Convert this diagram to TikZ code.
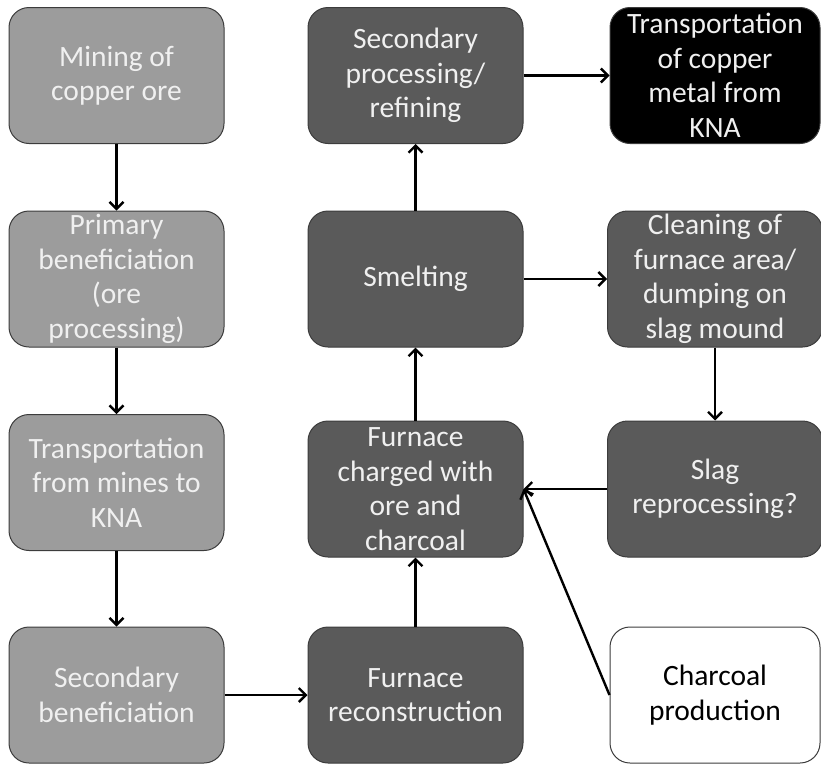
\documentclass[tikz,border=0pt]{standalone}
\usepackage{fontspec}
\setmainfont{Carlito}
\usetikzlibrary{arrows.meta}
\definecolor{lightbox}{HTML}{9C9C9C}
\definecolor{darkbox}{HTML}{5A5A5A}
\definecolor{edge}{HTML}{3C3C3C}

\begin{document}
\begin{tikzpicture}[
  x=1pt, y=-1pt,
  >={Straight Barb[length=7pt, width=14pt]},
  box/.style={draw=edge, line width=1pt, rounded corners=20pt,
              minimum width=215pt, minimum height=136pt, inner sep=0pt,
              align=center, text=white!94!black,
              font=\fontsize{29.5}{34.5}\selectfont},
  mine/.style={box, fill=lightbox},
  kiln/.style={box, fill=darkbox},
  side/.style={box, minimum width=210pt},
  arr/.style={->, line width=2.4pt}
]
\useasboundingbox (0,0) rectangle (821,766);

%% Ore chain
\node[mine] (mining)    at (116.5, 75.5) {Mining of\\copper ore};
\node[mine] (primary)   at (116.5,279)   {Primary\\beneficiation\\(ore\\processing)};
\node[mine] (transport) at (116.5,482.5) {Transportation\\from mines to\\KNA};
\node[mine] (secben)    at (116.5,695)   {Secondary\\beneficiation};

%% Furnace chain
\node[kiln] (furnrec)  at (415.5,695)  {Furnace\\reconstruction};
\node[kiln] (charged)  at (415.5,489)  {Furnace\\charged with\\ore and\\charcoal};
\node[kiln] (smelting) at (415.5,279)  {Smelting};
\node[kiln] (refining) at (415.5,75.5) {Secondary\\processing/\\refining};

%% Outputs and inputs
\node[side, fill=black] (export)   at (715, 75.5) {Transportation\\of copper\\metal from\\KNA};
\node[side, kiln]       (cleaning) at (715,279)   {Cleaning of\\furnace area/\\dumping on\\slag mound};
\node[side, kiln]       (slag)     at (715,489)   {Slag\\reprocessing?};
\node[side, fill=white, text=black] (charcoal) at (715,695) {Charcoal\\production};

%% Connectors
\draw[arr] (mining) -- (primary);
\draw[arr] (primary) -- (transport);
\draw[arr] (transport) -- (secben);
\draw[arr] (secben) -- (furnrec);
\draw[arr] (furnrec) -- (charged);
\draw[arr] (charged) -- (smelting);
\draw[arr] (smelting) -- (refining);
\draw[arr] (refining) -- (export);
\draw[arr] (smelting) -- (cleaning);
\draw[arr] (cleaning) -- (slag);
\draw[arr] (slag) -- (charged);
\draw[arr] (charcoal.west) -- (charged.east);

\end{tikzpicture}
\end{document}
